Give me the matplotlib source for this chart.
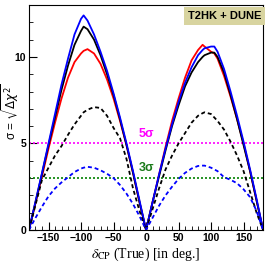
import numpy as np
import matplotlib.pyplot as plt
from matplotlib.ticker import MultipleLocator

# true delta_CP grid [deg]
d_left = [-180, -170, -160, -150, -140, -130, -120, -110, -100, -96, -90, -80, -70, -60, -50, -40, -30, -20, -10, 0]
d_right = [10, 20, 30, 40, 50, 60, 70, 80, 87, 90, 100, 105, 110, 120, 130, 140, 150, 160, 170, 180]
delta = d_left + d_right

blue_solid = [0, 1.65, 3.3, 5.0, 6.7, 8.4, 9.9, 11.3, 12.2, 12.4, 12.1, 11.3, 10.3, 9.2, 7.9, 6.5, 5.0, 3.4, 1.7, 0,
              1.6, 3.2, 4.7, 6.1, 7.4, 8.5, 9.4, 10.1, 10.4, 10.5, 10.6, 10.6, 10.3, 9.3, 8.0, 6.6, 5.1, 3.5, 1.8, 0]
black_solid = [0, 1.6, 3.25, 4.9, 6.5, 8.1, 9.5, 10.7, 11.5, 11.75, 11.6, 11.0, 10.1, 9.0, 7.8, 6.4, 4.9, 3.3, 1.6, 0,
               1.6, 3.1, 4.6, 6.0, 7.2, 8.3, 9.1, 9.7, 10.0, 10.1, 10.25, 10.25, 10.0, 9.1, 7.8, 6.4, 4.9, 3.4, 1.7, 0]
red_solid = [0, 1.55, 3.1, 4.7, 6.2, 7.6, 8.8, 9.7, 10.2, 10.35, 10.45, 10.2, 9.6, 8.7, 7.6, 6.3, 4.9, 3.3, 1.6, 0,
             1.6, 3.2, 4.8, 6.3, 7.6, 8.8, 9.8, 10.4, 10.7, 10.6, 10.3, 10.2, 9.9, 8.9, 7.7, 6.4, 5.0, 3.4, 1.7, 0]
black_dashed = [0, 1.45, 2.9, 3.6, 4.3, 4.85, 5.5, 6.1, 6.6, 6.8, 6.95, 7.1, 7.05, 6.6, 5.9, 5.3, 4.1, 2.4, 1.1, 0,
                1.2, 2.4, 3.5, 4.3, 5.0, 5.6, 6.2, 6.6, 6.75, 6.8, 6.7, 6.5, 6.3, 5.8, 5.1, 4.3, 3.4, 2.2, 1.0, 0]
blue_dashed = [0, 0.7, 1.35, 1.95, 2.4, 2.75, 3.05, 3.35, 3.55, 3.6, 3.65, 3.6, 3.45, 3.25, 3.0, 2.6, 2.1, 1.5, 0.8, 0,
               0.7, 1.4, 2.0, 2.5, 2.95, 3.3, 3.55, 3.7, 3.72, 3.72, 3.6, 3.5, 3.4, 3.05, 2.9, 2.7, 2.35, 1.9, 1.1, 0]

narrow = ['Liberation Sans Narrow', 'Liberation Sans', 'DejaVu Sans']

fig = plt.figure(figsize=(2.66, 2.73), dpi=100)
ax = fig.add_axes([0.109, 0.1575, 0.88, 0.8242])

ax.axhline(5, color='#ff00ff', lw=1.2, ls=(0, (1.2, 1.2)))
ax.axhline(3, color='#008000', lw=1.2, ls=(0, (1.2, 1.2)))
ax.text(0, 5.55, '5σ', color='#ff00ff', fontsize=9, ha='center', va='center', fontweight='bold', family=narrow)
ax.text(0, 3.6, '3σ', color='#1a7a1a', fontsize=9, ha='center', va='center', fontweight='bold', family=narrow)

ax.plot(delta, red_solid, color='red', lw=1.3)
ax.plot(delta, black_solid, color='black', lw=1.3)
ax.plot(delta, blue_solid, color='blue', lw=1.3)
ax.plot(delta, black_dashed, color='black', lw=1.3, ls=(0, (2.2, 1.6)))
ax.plot(delta, blue_dashed, color='blue', lw=1.3, ls=(0, (2.2, 1.6)))

ax.text(0.992, 0.972, 'T2HK + DUNE', transform=ax.transAxes, ha='right', va='top',
        fontsize=8, fontweight='bold', family=narrow,
        bbox=dict(boxstyle='square,pad=0.35', fc='#d8d4a0', ec='none'))

ax.set_xlim(-180, 180)
ax.set_ylim(0, 13)
ax.xaxis.set_major_locator(MultipleLocator(50))
ax.xaxis.set_minor_locator(MultipleLocator(10))
ax.yaxis.set_major_locator(MultipleLocator(5))
ax.yaxis.set_minor_locator(MultipleLocator(1))
ax.tick_params(which='both', direction='in', top=False, right=False, labelsize=7.5, pad=2)
ax.tick_params(which='major', length=6)
ax.tick_params(which='minor', length=3)
for lab in ax.get_xticklabels() + ax.get_yticklabels():
    lab.set_fontweight('bold')
    lab.set_family(narrow)

xl = ax.set_xlabel(r'$\delta_{\rm CP}$ (True) [in deg.]', fontsize=10, family='Liberation Serif', labelpad=2)
xl.set_math_fontfamily('stix')
yl = fig.text(11 / 266, 0.59, r'σ = $\sqrt{\Delta\chi^{2}}$', rotation=90, ha='center', va='center',
              fontsize=8.5, family='Liberation Sans')
yl.set_math_fontfamily('dejavusans')

fig.savefig('out.png', dpi=100)
